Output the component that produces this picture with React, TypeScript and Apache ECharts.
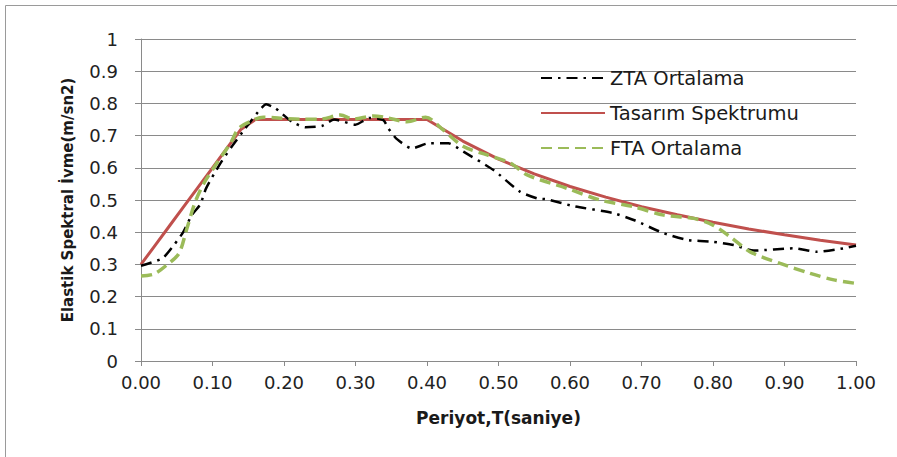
import React, { useEffect, useRef } from "react";
import * as echarts from "echarts";

const seriesNames = ["ZTA Ortalama", "Tasarım Spektrumu", "FTA Ortalama"];

const ztaT = [0.0, 0.03, 0.046, 0.059, 0.071, 0.083, 0.091, 0.111, 0.127, 0.145, 0.164, 0.175, 0.188, 0.211, 0.23, 0.253, 0.27, 0.3, 0.32, 0.339, 0.346, 0.358, 0.379, 0.402, 0.43, 0.451, 0.493, 0.53, 0.554, 0.568, 0.605, 0.661, 0.689, 0.731, 0.764, 0.8, 0.829, 0.857, 0.913, 0.945, 0.983, 1.0];
const ztaV = [0.296, 0.319, 0.36, 0.4, 0.453, 0.487, 0.536, 0.614, 0.666, 0.72, 0.774, 0.797, 0.785, 0.743, 0.726, 0.73, 0.75, 0.734, 0.755, 0.748, 0.722, 0.689, 0.66, 0.676, 0.676, 0.65, 0.593, 0.526, 0.505, 0.502, 0.481, 0.459, 0.438, 0.397, 0.376, 0.37, 0.36, 0.343, 0.35, 0.339, 0.35, 0.358];

const designT = [0.0, 0.02, 0.04, 0.06, 0.08, 0.1, 0.12, 0.14, 0.16, 0.4, 0.45, 0.5, 0.55, 0.6, 0.65, 0.7, 0.75, 0.8, 0.85, 0.9, 0.95, 1.0];
const designV = [0.3, 0.36, 0.42, 0.48, 0.54, 0.6, 0.66, 0.72, 0.75, 0.75, 0.683, 0.627, 0.581, 0.542, 0.509, 0.479, 0.454, 0.431, 0.41, 0.392, 0.375, 0.36];

const ftaT = [0.0, 0.018, 0.036, 0.053, 0.064, 0.076, 0.088, 0.106, 0.125, 0.137, 0.157, 0.171, 0.195, 0.223, 0.251, 0.279, 0.297, 0.325, 0.345, 0.372, 0.398, 0.423, 0.451, 0.484, 0.517, 0.54, 0.596, 0.642, 0.689, 0.731, 0.773, 0.8, 0.824, 0.852, 0.894, 0.936, 0.969, 1.0];
const ftaV = [0.264, 0.27, 0.298, 0.334, 0.41, 0.495, 0.552, 0.614, 0.676, 0.723, 0.748, 0.757, 0.754, 0.751, 0.751, 0.764, 0.751, 0.761, 0.755, 0.743, 0.757, 0.717, 0.666, 0.64, 0.614, 0.578, 0.536, 0.5, 0.479, 0.453, 0.443, 0.422, 0.386, 0.339, 0.303, 0.272, 0.252, 0.241];

const xTitle = "Periyot,T(saniye)";
const yTitle = "Elastik Spektral İvme(m/sn2)";

const zip = (t: number[], v: number[]) => t.map((x, i) => [x, v[i]]);

const FONT = "'DejaVu Sans', sans-serif";
const GRID = "#8a8a8a";

export default function App() {
  const ref = useRef<HTMLDivElement>(null);
  useEffect(() => {
    if (!ref.current) return;
    const chart = echarts.init(ref.current, undefined, { renderer: "svg" });
    chart.setOption({
      animation: false,
      backgroundColor: "#ffffff",
      textStyle: { fontFamily: FONT },
      grid: { left: 141, right: 41, top: 39, bottom: 96 },
      legend: {
        orient: "vertical",
        left: 535,
        top: 63,
        itemWidth: 64,
        itemHeight: 14,
        itemGap: 15,
        itemStyle: { opacity: 0 },
        textStyle: { fontSize: 19.5, color: "#1a1a1a", fontFamily: FONT },
        data: seriesNames,
      },
      graphic: [
        { type: "line", shape: { x1: 5.5, y1: 5.5, x2: 897, y2: 5.5 }, style: { stroke: "#9a9a9a", lineWidth: 1 } },
        { type: "line", shape: { x1: 5.5, y1: 5.5, x2: 5.5, y2: 457 }, style: { stroke: "#9a9a9a", lineWidth: 1 } },
      ],
      xAxis: {
        type: "value",
        min: 0,
        max: 1,
        interval: 0.1,
        name: xTitle,
        nameLocation: "middle",
        nameGap: 48,
        nameTextStyle: { fontSize: 17, fontWeight: "bold", color: "#1a1a1a", fontFamily: FONT },
        axisLine: { show: true, lineStyle: { color: GRID } },
        axisTick: { show: true, length: 5, lineStyle: { color: GRID } },
        axisLabel: { fontSize: 18, color: "#222", margin: 12, formatter: (v: number) => v.toFixed(2) },
        splitLine: { show: false },
      },
      yAxis: {
        type: "value",
        min: 0,
        max: 1,
        interval: 0.1,
        name: yTitle,
        nameLocation: "middle",
        nameGap: 66,
        nameRotate: 90,
        nameTextStyle: { fontSize: 15, fontWeight: "bold", color: "#1a1a1a", fontFamily: FONT },
        axisLine: { show: true, lineStyle: { color: GRID } },
        axisTick: { show: true, length: 6, lineStyle: { color: GRID } },
        axisLabel: { fontSize: 18, color: "#222", margin: 23 },
        splitLine: { show: true, lineStyle: { color: GRID, width: 1 } },
      },
      series: [
        {
          name: seriesNames[0],
          type: "line",
          data: zip(ztaT, ztaV),
          showSymbol: false,
          symbol: "none",
          smooth: 0.2,
          lineStyle: { color: "#000000", width: 2.5, type: [11, 6, 2.5, 6] },
          itemStyle: { color: "#000000" },
          z: 3,
        },
        {
          name: seriesNames[1],
          type: "line",
          data: zip(designT, designV),
          showSymbol: false,
          symbol: "none",
          lineStyle: { color: "#C0504D", width: 3 },
          itemStyle: { color: "#C0504D" },
          z: 2,
        },
        {
          name: seriesNames[2],
          type: "line",
          data: zip(ftaT, ftaV),
          showSymbol: false,
          symbol: "none",
          smooth: 0.3,
          lineStyle: { color: "#9BBB59", width: 3.5, type: [11, 6] },
          itemStyle: { color: "#9BBB59" },
          z: 4,
        },
      ],
    });
    return () => chart.dispose();
  }, []);
  return <div ref={ref} style={{ width: 897, height: 457, position: "absolute", left: 0, top: 0 }} />;
}
